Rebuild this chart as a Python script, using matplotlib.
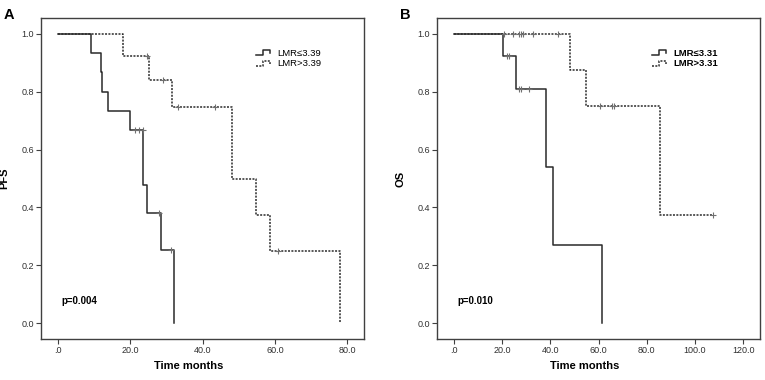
"""
Kaplan-Meier curves for PFS and OS split by LMR cut-off.
"""

import numpy as np
import matplotlib
matplotlib.use("Agg")
import matplotlib.pyplot as plt
from matplotlib.lines import Line2D
from matplotlib.legend_handler import HandlerBase
from matplotlib.ticker import FuncFormatter

plt.rcParams["font.family"] = ["Liberation Sans", "DejaVu Sans"]

# ==========================================
# DATA
# ==========================================
# Panel A - PFS
pfs_low_t   = [0, 9.0, 12.0, 12.3, 13.7, 19.9, 23.6, 24.5, 28.5, 32.0]
pfs_low_s   = [1.0, 0.933, 0.867, 0.800, 0.733, 0.667, 0.476, 0.381, 0.254, 0.0]
pfs_low_cen = [21.3, 22.4, 23.4, 28.0, 31.2]

pfs_high_t   = [0, 18.1, 25.2, 31.4, 48.0, 54.7, 58.6, 78.0]
pfs_high_s   = [1.0, 0.923, 0.839, 0.746, 0.497, 0.373, 0.249, 0.0]
pfs_high_cen = [24.5, 28.9, 33.1, 43.4, 60.9]

# Panel B - OS
os_low_t   = [0, 20.5, 25.7, 38.4, 41.0, 61.5]
os_low_s   = [1.0, 0.923, 0.808, 0.539, 0.269, 0.0]
os_low_cen = [21.9, 22.8, 27.1, 27.8, 31.2]

os_high_t   = [0, 48.1, 55.0, 85.5, 107.6]
os_high_s   = [1.0, 0.875, 0.750, 0.375, 0.375]
os_high_cen = [20.7, 24.6, 27.1, 27.9, 28.8, 32.9, 43.3, 60.6, 65.4, 66.5, 107.6]

pfs_labels = ["LMR\u22643.39", "LMR>3.39"]
os_labels  = ["LMR\u22643.31", "LMR>3.31"]
pfs_xticks = [0, 20, 40, 60, 80]
os_xticks  = [0, 20, 40, 60, 80, 100, 120]
yticks     = [0.0, 0.2, 0.4, 0.6, 0.8, 1.0]

# ==========================================
# HELPERS
# ==========================================
LINE_COL = "#2a2a2a"
AX_COL   = "#404040"
DOTTED   = (0, (1.3, 0.9))


class StepHandler(HandlerBase):
    """Small step glyph like the SPSS legend."""
    def create_artists(self, legend, orig_handle, xdescent, ydescent,
                       width, height, fontsize, trans):
        xs = np.array([0.0, 0.45, 0.45, 0.9, 0.9]) * width - xdescent
        ys = np.array([0.1, 0.1, 0.85, 0.85, 0.45]) * height - ydescent
        ln = Line2D(xs, ys)
        ln.update_from(orig_handle)
        ln.set_transform(trans)
        return [ln]


def surv_at(times, surv, t):
    idx = np.searchsorted(times, t, side="right") - 1
    return np.asarray(surv)[idx]


def km_curve(ax, times, surv, cens, ls):
    line, = ax.step(times, surv, where="post", color=LINE_COL, lw=1.1, linestyle=ls)
    ys = [surv_at(times, surv, c) for c in cens]
    ax.plot(cens, ys, "+", color="#707070", ms=5, mew=0.8)
    return line


def tick_fmt(v, _):
    s = f"{v:.1f}"
    return "." + s.split(".")[1] if abs(v) < 1e-9 else s


def style_axes(ax, xlim, xticks, ylabel, pval, labels, handles, bold_legend):
    ax.set_xlim(*xlim)
    ax.set_ylim(-0.055, 1.055)
    ax.set_xticks(xticks)
    ax.set_yticks(yticks)
    ax.xaxis.set_major_formatter(FuncFormatter(tick_fmt))
    ax.yaxis.set_major_formatter(FuncFormatter(lambda v, _: f"{v:.1f}"))
    ax.tick_params(axis="both", length=3.5, width=0.8, color=AX_COL,
                   labelsize=6.5, labelcolor="#303030", pad=1.5)
    for sp in ax.spines.values():
        sp.set_color(AX_COL)
        sp.set_linewidth(1.0)
    ax.set_xlabel("Time months", fontsize=8, fontweight="bold")
    ax.set_ylabel(ylabel, fontsize=8, fontweight="bold")
    ax.xaxis.set_label_coords(0.458, -0.068)
    ax.yaxis.set_label_coords(-0.097, 0.5)
    ax.text(0.062, 0.118, pval, transform=ax.transAxes, fontsize=7,
            fontweight="bold", va="center", ha="left")
    leg = ax.legend(handles, labels, loc="upper left",
                    bbox_to_anchor=(0.655, 0.915), frameon=False,
                    handler_map={Line2D: StepHandler()},
                    handlelength=1.6, handletextpad=0.6, labelspacing=0.15,
                    borderaxespad=0, prop={"size": 6.8,
                                           "weight": "bold" if bold_legend else "normal"})
    return leg


# ==========================================
# FIGURE
# ==========================================
fig = plt.figure(figsize=(7.65, 3.8), dpi=100)
fig.patch.set_facecolor("white")

axA = fig.add_axes([0.0536, 0.1079, 0.4222, 0.8447])
axB = fig.add_axes([0.5712, 0.1079, 0.4222, 0.8447])

hA1 = km_curve(axA, pfs_low_t, pfs_low_s, pfs_low_cen, "-")
hA2 = km_curve(axA, pfs_high_t, pfs_high_s, pfs_high_cen, DOTTED)
style_axes(axA, (-4.7, 84.6), pfs_xticks, "PFS", "p=0.004",
           pfs_labels, [hA1, hA2], False)

hB1 = km_curve(axB, os_low_t, os_low_s, os_low_cen, "-")
hB2 = km_curve(axB, os_high_t, os_high_s, os_high_cen, DOTTED)
style_axes(axB, (-7.05, 127.0), os_xticks, "OS", "p=0.010",
           os_labels, [hB1, hB2], True)

fig.text(4 / 765, 1 - 19 / 380, "A", fontsize=10.5, fontweight="bold", va="baseline")
fig.text(400 / 765, 1 - 19 / 380, "B", fontsize=10.5, fontweight="bold", va="baseline")

fig.savefig("out.png", dpi=100, facecolor=fig.get_facecolor())
